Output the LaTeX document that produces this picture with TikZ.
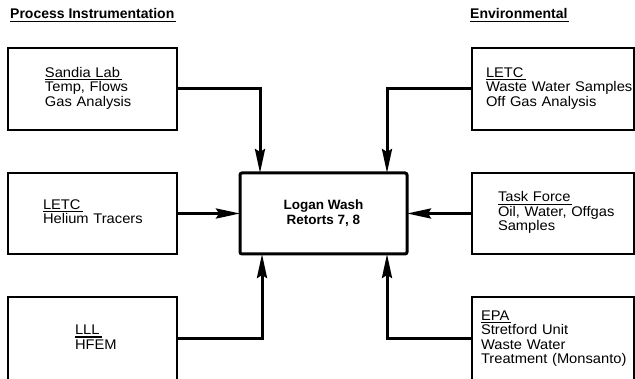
\documentclass[tikz,border=0pt]{standalone}
\usepackage{fontspec}
\setmainfont{Liberation Sans}
\newfontfamily\boxfont[FakeStretch=1.05]{Liberation Sans}
\usetikzlibrary{positioning}
\usetikzlibrary{arrows.meta}

\newcommand{\ul}[1]{\leavevmode\setbox0=\hbox{#1}\rlap{\rule[-3pt]{\dimexpr\wd0+2pt\relax}{1.2pt}}\box0}
\newcommand{\entry}[2]{\begin{tabular}{@{}l@{}}\ul{#1}\\#2\end{tabular}}

\tikzset{
	source/.style={draw, rectangle, line width=1.1pt, outer sep=0pt, inner ysep=0pt, align=left, font=\boxfont\fontsize{14}{14.5}\selectfont},
	retort/.style={draw, rectangle, line width=3pt, rounded corners=2pt, outer sep=0pt, minimum width=167pt, minimum height=81pt, align=center, font=\bfseries\fontsize{13.5}{15}\selectfont},
	heading/.style={inner sep=0pt, anchor=base west, font=\bfseries\fontsize{14}{16}\selectfont},
	feed/.style={line width=3pt, -{Stealth[length=24pt,width=10pt,inset=3pt]}}
}

\begin{document}
\begin{tikzpicture}[x=1pt, y=-1pt]
		\useasboundingbox (0,0) rectangle (635,379);
		\clip (0,0) rectangle (635,379);
		
		\node[heading] (procT) at (10,19) {\ul{Process Instrumentation}};
		\node[heading] (envT) at (470,19) {\ul{Environmental}};
		
		\node[retort] (logan) at (323.5,213.5) {Logan Wash\\Retorts 7, 8};
		
		% process instrumentation
		\node[source, minimum height=81pt, text width=99pt, inner xsep=35pt] (letcL) [left = 63pt of logan] {\entry{LETC}{Helium Tracers}};
		\node[source, minimum height=82pt, text width=95pt, inner xsep=37pt] (sandia) [above = 43pt of letcL] {\entry{Sandia Lab}{Temp, Flows\\Gas Analysis}};
		\node[source, minimum height=84pt, text width=35pt, inner xsep=67pt] (lll) [below = 43pt of letcL] {\entry{LLL}{HFEM}};
		
		% environmental
		\node[source, minimum height=81pt, text width=110pt, inner xsep=26pt] (task) [right = 65pt of logan] {\entry{Task Force}{Oil, Water, Offgas\\Samples}};
		\node[source, minimum height=82pt, text width=134pt, inner xsep=14pt] (letcR) [above = 43pt of task] {\entry{LETC}{Waste Water Samples\\Off Gas Analysis}};
		\node[source, minimum height=84pt, text width=144pt, inner xsep=9pt] (epa) [below = 43pt of task] {\entry{EPA}{Stretford Unit\\Waste Water\\Treatment (Monsanto)}};
		
		\draw[feed] (sandia.east) -| ([xshift=20pt]logan.north west);
		\draw[feed] (letcL.east) -- (logan.west);
		\draw[feed] (lll.east) -| ([xshift=22pt]logan.south west);
		\draw[feed] (letcR.west) -| ([xshift=-20pt]logan.north east);
		\draw[feed] (task.west) -- (logan.east);
		\draw[feed] (epa.west) -| ([xshift=-20pt]logan.south east);
\end{tikzpicture}
\end{document}
